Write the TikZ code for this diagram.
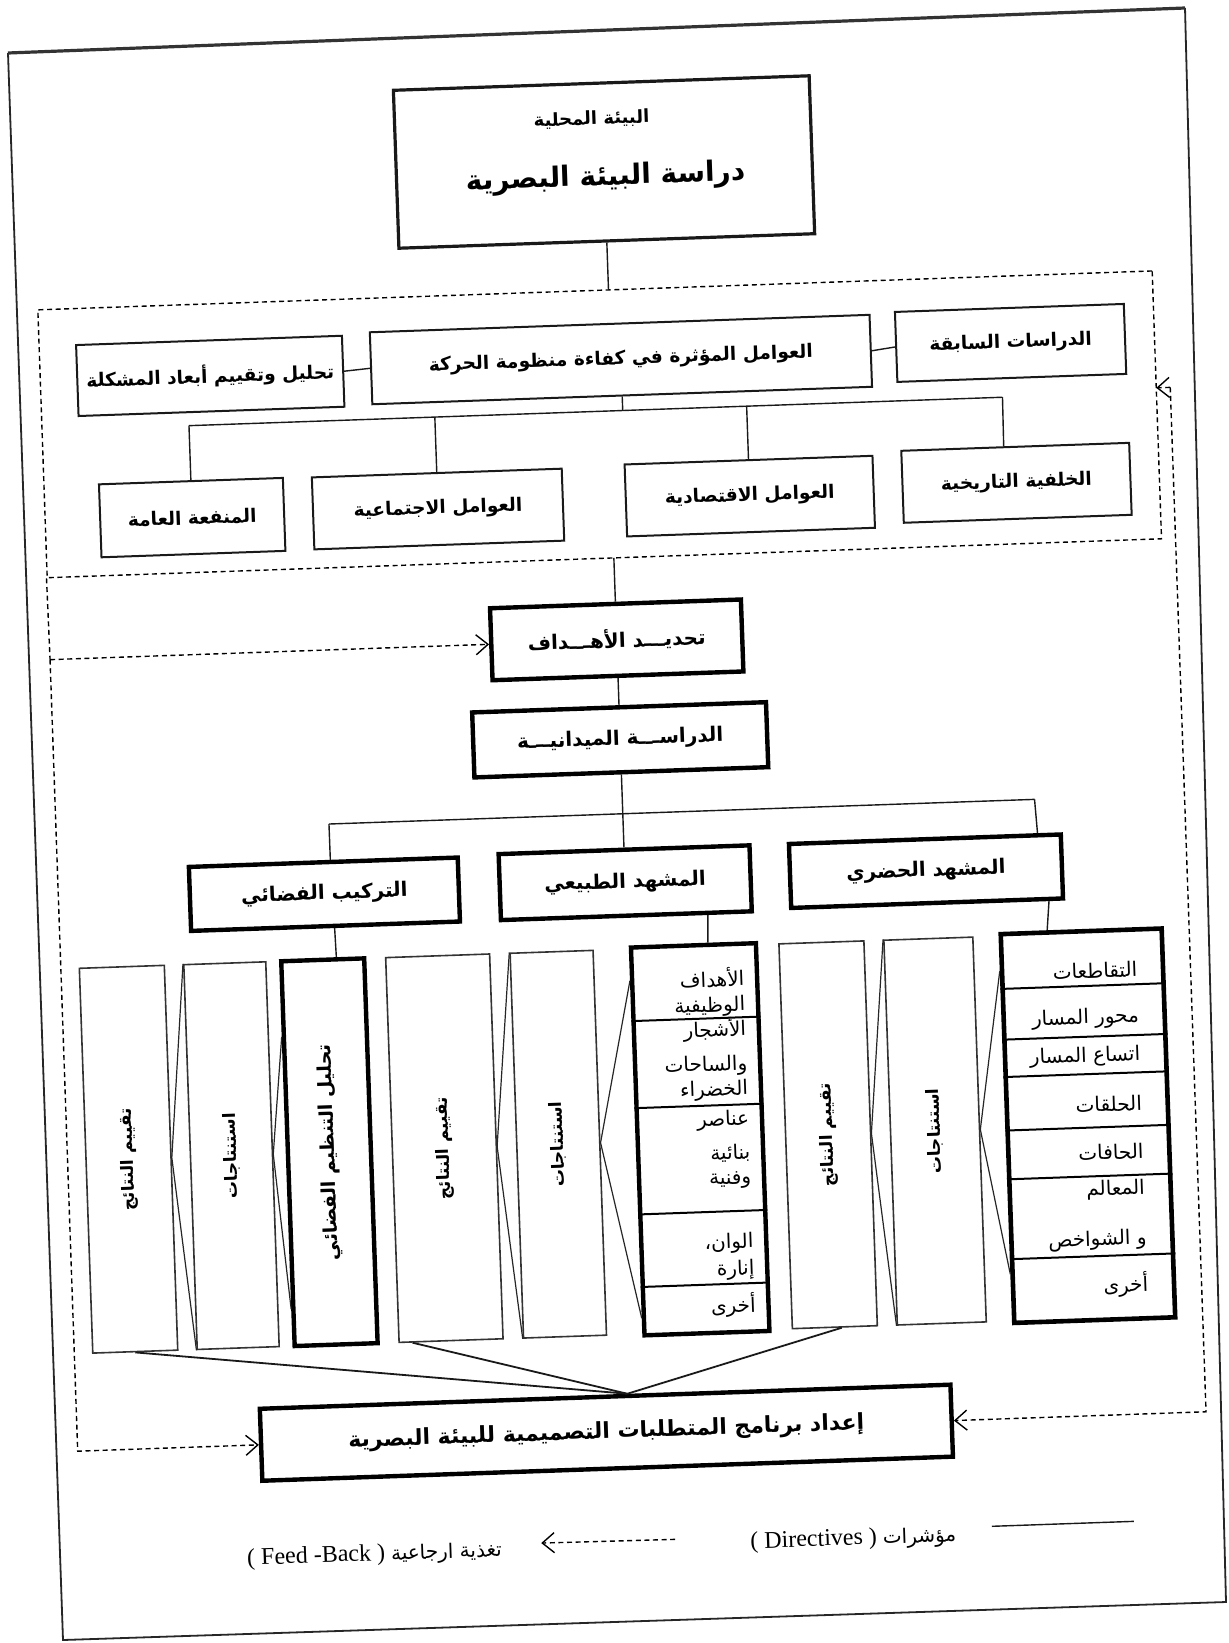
\documentclass[tikz,border=0pt]{standalone}
\usepackage{fontspec}
\setmainfont{Liberation Serif}
\newfontfamily\arabicfont[Script=Arabic]{DejaVu Sans}
\TeXXeTstate=1
\usetikzlibrary{arrows.meta,calc}
\newcommand{\AR}[1]{{\arabicfont\beginR #1\endR}}
\newcommand{\myfs}[1]{\fontsize{#1}{#1}\selectfont}
\tikzset{
  boxA/.style={draw=black!90, line width=1pt, inner sep=1pt, align=center, font=\arabicfont\bfseries\myfs{9.3}},
  boxT/.style={draw=black, line width=2.2pt, inner sep=1pt, align=center, font=\arabicfont\bfseries\myfs{10}},
  tallbox/.style={draw=black!80, line width=0.8pt, inner sep=0pt},
  listbox/.style={draw=black, line width=2.3pt, inner sep=0pt},
  vtext/.style={rotate=90, font=\arabicfont\bfseries\myfs{8.5}, inner sep=0pt},
  itemtext/.style={anchor=east, font=\arabicfont\myfs{10}, inner sep=0pt},
  conn/.style={line width=0.7pt, draw=black!90},
  zig/.style={line width=0.6pt, draw=black!85},
  conv/.style={line width=0.9pt, draw=black!90},
  dashln/.style={line width=0.7pt, dash pattern=on 2.5pt off 1.8pt},
  fb/.style={dashln, -{Straight Barb[length=6pt,width=10pt,line width=0.7pt]}},
  dashbox/.style={draw, dashln, inner sep=0pt},
}
\begin{document}
\begin{tikzpicture}[x=0.5pt,y=-0.5pt]
\useasboundingbox (0,0) rectangle (1229,1643);
\fill[white] (0,0) rectangle (1229,1643);
% scanned page frame
\draw[line width=0.9pt, black!85] (1185,8) -- (1226,1602) -- (63,1640) -- (8,53);
\draw[line width=1.6pt, black!80] (8,53) -- (1185,8);

\begin{scope}[x={(0.499695pt,0.017450pt)}, y={(0.017450pt,-0.499695pt)}, every node/.append style={rotate=2}]
% ---------- top box
\node[boxA, line width=1.6pt, minimum width=208pt, minimum height=79pt] (top) at (598,183) {};
\node[font=\arabicfont\bfseries\myfs{9}, inner sep=0pt] (topt1) at (587,140) {\AR{البيئة المحلية}};
\node[font=\arabicfont\bfseries\myfs{14}, inner sep=0pt] (topt2) at (599,199) {\AR{دراسة البيئة البصرية}};

% ---------- dashed group 1
\node[dashbox, minimum width=557.5pt, minimum height=134pt] (grp1) at (584.5,445) {};
\coordinate (g1top) at (598,311);
\draw[conn] (top.south) -- (g1top);

\node[boxA, minimum width=133pt, minimum height=35.5pt] (tahlil1) at (197,383) {\AR{تحليل وتقييم أبعاد المشكلة}};
\node[boxA, minimum width=250pt, minimum height=36pt] (awamel) at (608,381) {\AR{العوامل المؤثرة في كفاءة منظومة الحركة}};
\node[boxA, minimum width=114.5pt, minimum height=35pt] (sabiqa) at (998,378) {\AR{الدراسات السابقة}};
\draw[conn] (tahlil1.east) -- (awamel.west);
\draw[conn] (awamel.east) -- (sabiqa.west);

\node[boxA, minimum width=92pt, minimum height=36.5pt] (manfaa) at (174,524) {\AR{المنفعة العامة}};
\node[boxA, minimum width=125pt, minimum height=36pt] (ijt) at (420,524) {\AR{العوامل الاجتماعية}};
\node[boxA, minimum width=124pt, minimum height=36pt] (iqt) at (732,522) {\AR{العوامل الاقتصادية}};
\node[boxA, minimum width=114pt, minimum height=36pt] (tarikh) at (999,518) {\AR{الخلفية التاريخية}};

\coordinate (b1L) at (174,432);
\coordinate (b1M) at (608,432);
\coordinate (b1R) at (988,432);
\coordinate (b1a) at (420,432);
\coordinate (b1b) at (732,432);
\draw[conn] (awamel.south) -- (b1M);
\draw[conn] (b1L) -- (b1R);
\draw[conn] (b1L) -- (manfaa.north);
\draw[conn] (b1a) -- (ijt.north);
\draw[conn] (b1b) -- (iqt.north);
\draw[conn] (b1R) -- ($(tarikh.north west)!0.45!(tarikh.north east)$);

% ---------- objectives / field study
\node[boxT, minimum width=125.5pt, minimum height=36pt] (tahdid) at (594,661) {\AR{تحديـــد الأهـــداف}};
\coordinate (g1bot) at (594,579);
\draw[conn] (g1bot) -- (tahdid.north);
\node[boxT, minimum width=147pt, minimum height=32.5pt] (dirasa) at (594,761) {\AR{الدراســـة الميدانيـــة}};
\draw[conn] (tahdid.south) -- (dirasa.north);

\node[boxT, minimum width=134.5pt, minimum height=32pt] (tarkib) at (293,905) {\AR{التركيب الفضائي}};
\node[boxT, minimum width=125.5pt, minimum height=33pt] (tabii) at (594,904) {\AR{المشهد الطبيعي}};
\node[boxT, minimum width=136pt, minimum height=32pt] (hadari) at (895,903) {\AR{المشهد الحضري}};

\coordinate (b2L) at (300,835);
\coordinate (b2R) at (1006,835);
\draw[conn] (dirasa.south) -- (tabii.north);
\draw[conn] (b2L) -- (b2R);
\draw[conn] (b2L) -- ($(tarkib.north west)!0.526!(tarkib.north east)$);
\draw[conn] (b2R) -- ($(hadari.north west)!0.908!(hadari.north east)$);

% ---------- tall boxes
\node[tallbox, minimum width=42.5pt, minimum height=192.5pt] (tq1) at (88,1163) {};
\node[tallbox, minimum width=41pt, minimum height=192.5pt] (is1) at (191,1163) {};
\node[listbox, line width=2.2pt, minimum width=41.5pt, minimum height=192.5pt] (tahlil2) at (289,1163) {};
\node[tallbox, minimum width=52pt, minimum height=192.5pt] (tq2) at (404,1163) {};
\node[tallbox, minimum width=41.5pt, minimum height=192.5pt] (is2) at (518,1163) {};
\node[listbox, line width=2.2pt, minimum width=62.5pt, minimum height=194pt] (list6) at (660,1163) {};
\node[tallbox, minimum width=42.5pt, minimum height=192.5pt] (tq3) at (788,1163) {};
\node[tallbox, minimum width=44.5pt, minimum height=192.5pt] (is3) at (895,1163) {};
\node[listbox, minimum width=80.5pt, minimum height=194.5pt] (list9) at (1048,1163) {};

\node[vtext] (tq1t) at (tq1.center) {\AR{تقييم النتائج}};
\node[vtext] (is1t) at (is1.center) {\AR{استنتاجات}};
\node[vtext, font=\arabicfont\bfseries\myfs{9.5}] (tahlil2t) at (tahlil2.center) {\AR{تحليل التنظيم الفضائي}};
\node[vtext] (tq2t) at (tq2.center) {\AR{تقييم النتائج}};
\node[vtext] (is2t) at (is2.center) {\AR{استنتاجات}};
\node[vtext] (tq3t) at (tq3.center) {\AR{تقييم النتائج}};
\node[vtext] (is3t) at (is3.center) {\AR{استنتاجات}};

% connectors from headers
\draw[conn] ($(tarkib.south west)!0.533!(tarkib.south east)$) -- ($(tahlil2.north west)!0.657!(tahlil2.north east)$);
\draw[conn] ($(tabii.south west)!0.819!(tabii.south east)$) -- ($(list6.north west)!0.612!(list6.north east)$);
\draw[conn] ($(hadari.south west)!0.941!(hadari.south east)$) -- ($(list9.north west)!0.295!(list9.north east)$);

% list dividers
\foreach \f in {0.193,0.415,0.686,0.871}
  \draw[line width=1pt] ($(list6.north west)!\f!(list6.south west)$) -- ($(list6.north east)!\f!(list6.south east)$);
\foreach \f in {0.145,0.274,0.369,0.505,0.629,0.832}
  \draw[line width=1pt] ($(list9.north west)!\f!(list9.south west)$) -- ($(list9.north east)!\f!(list9.south east)$);

% list texts
\foreach \t/\v [count=\i] in {الأهداف/1002, الوظيفية/1031, الأشجار/1054, والساحات/1090, الخضراء/1115, عناصر/1145, بنائية/1178, وفنية/1205, الوان،/1268, إنارة/1295, أخرى/1330}
  \node[itemtext] (la\i) at (710,\v) {\AR{\t}};
\foreach \t/\v [count=\i] in {التقاطعات/1008, محور المسار/1056, اتساع المسار/1094, الحلقات/1142, الحافات/1190, المعالم/1228, و الشواخص/1278, أخرى/1323}
  \node[itemtext] (lb\i) at (1103,\v) {\AR{\t}};

% zigzags
\draw[zig] (is1.north west) -- (tq1.east) -- (is1.south west);
\draw[zig] ($(tahlil2.north west)!0.2!(tahlil2.south west)$) -- (is1.east) -- ($(tahlil2.north west)!0.9!(tahlil2.south west)$);
\draw[zig] (is2.north west) -- (tq2.east) -- (is2.south west);
\draw[zig] ($(list6.north west)!0.09!(list6.south west)$) -- (is2.east) -- ($(list6.north west)!0.95!(list6.south west)$);
\draw[zig] (is3.north west) -- (tq3.east) -- (is3.south west);
\draw[zig] ($(list9.north west)!0.1!(list9.south west)$) -- (is3.east) -- ($(list9.north west)!0.87!(list9.south west)$);

% ---------- final box
\node[boxT, minimum width=345.5pt, minimum height=36pt, font=\arabicfont\bfseries\myfs{11}] (final) at (556,1453) {\AR{إعداد برنامج المتطلبات التصميمية للبيئة البصرية}};
\coordinate (convp) at ($(final.north west)!0.532!(final.north east)$);
\draw[conv] (tq1.south) -- (convp);
\draw[conv] ($(tq2.south west)!0.135!(tq2.south east)$) -- (convp);
\draw[conv] ($(tq3.south west)!0.58!(tq3.south east)$) -- (convp);

% ---------- feedback lines
\coordinate (clt) at (27,661);
\coordinate (clb) at (27,1453);
\draw[dashln] (grp1.south west) -- (clt);
\draw[fb] (clt) -- (tahdid.west);
\draw[fb] (clt) -- (clb) -- (final.west);
\coordinate (crt) at (1156,428);
\coordinate (crb) at (1156,1453);
\coordinate (g1r) at (1142,428);
\draw[fb] (crt) -- (crb) -- (final.east);
\draw[fb] (crt) -- (g1r);

% ---------- legend
\coordinate (ls1) at (938,1560);
\coordinate (ls2) at (1080,1560);
\draw[conn] (ls1) -- (ls2);
\node[inner sep=0pt] (legd) at (799,1568) {\myfs{12}( Directives ) \AR{\myfs{10}مؤشرات}};
\coordinate (la1) at (621,1562);
\coordinate (la2) at (487,1561);
\draw[fb] (la1) -- (la2);
\node[inner sep=0pt] (legf) at (320,1567) {\myfs{12}( Feed -Back ) \AR{\myfs{10}تغذية ارجاعية}};
\end{scope}
\end{tikzpicture}
\end{document}
